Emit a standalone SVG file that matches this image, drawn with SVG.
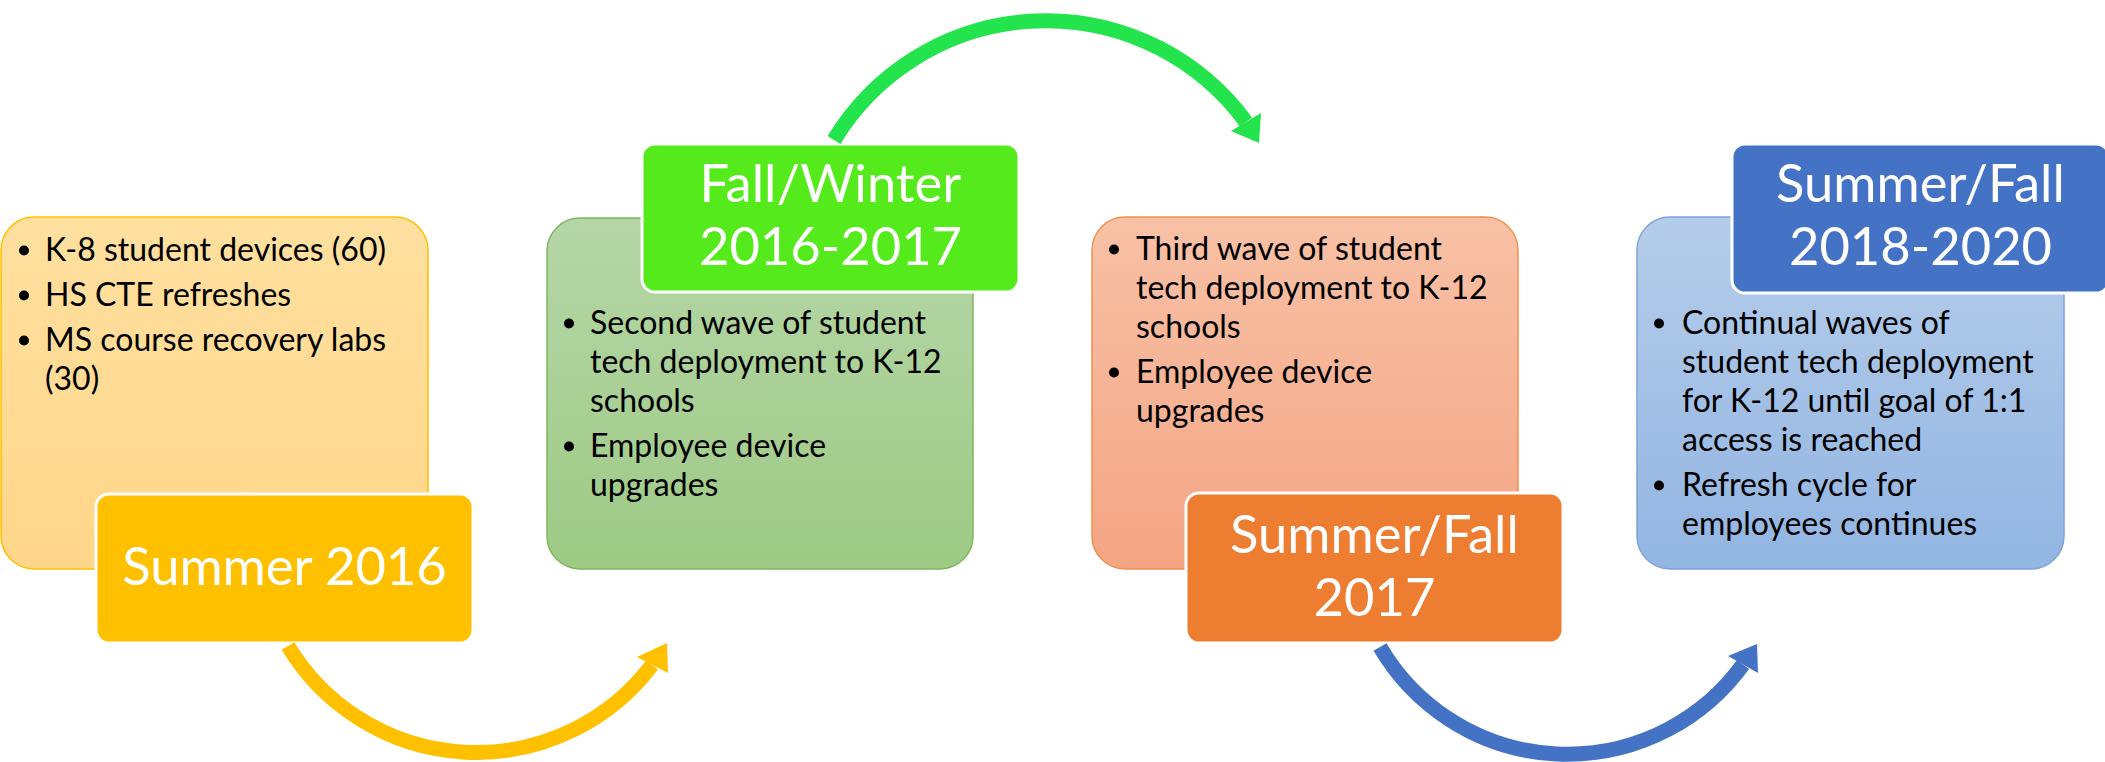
<svg xmlns="http://www.w3.org/2000/svg" width="2105" height="762" viewBox="0 0 2105 762">
<defs>
<linearGradient id="g1" x1="0" y1="0" x2="0" y2="1"><stop offset="0" stop-color="#FFE09F"/><stop offset="1" stop-color="#FFD68A"/></linearGradient>
<linearGradient id="g2" x1="0" y1="0" x2="0" y2="1"><stop offset="0" stop-color="#B6D6A7"/><stop offset="1" stop-color="#9DCA85"/></linearGradient>
<linearGradient id="g3" x1="0" y1="0" x2="0" y2="1"><stop offset="0" stop-color="#F8C1A6"/><stop offset="1" stop-color="#F4A584"/></linearGradient>
<linearGradient id="g4" x1="0" y1="0" x2="0" y2="1"><stop offset="0" stop-color="#B5CDEA"/><stop offset="1" stop-color="#92B5E2"/></linearGradient>
</defs>
<style>
.body{font-family:Lato,"Open Sans","Liberation Sans",sans-serif;font-size:32px;fill:#000}
.title{font-family:Lato,"Open Sans","Liberation Sans",sans-serif;font-size:52.5px;fill:#fff;text-anchor:middle}
.tb{stroke:#fff;stroke-width:3}
.dot{fill:#000}
.arc{fill:none;stroke-width:15}
</style>
<rect width="2105" height="762" fill="#fff"/>

<g id="node1">
<rect x="1" y="217" width="427" height="352" rx="33" fill="url(#g1)" stroke="#FFC000" stroke-width="1.5"/>
<circle class="dot" cx="24" cy="250.5" r="5"/>
<circle class="dot" cx="24" cy="295.5" r="5"/>
<circle class="dot" cx="24" cy="340.5" r="5"/>
<text class="body" x="45" y="261">K-8 student devices (60)</text>
<text class="body" x="45" y="306">HS CTE refreshes</text>
<text class="body" x="45" y="351">MS course recovery labs</text>
<text class="body" x="45" y="390">(30)</text>
<rect class="tb" x="96" y="494" width="377" height="149" rx="13" fill="#FFC000"/>
<text class="title" x="284.5" y="585">Summer 2016</text>
</g>

<g id="node2">
<rect x="547" y="218" width="426" height="351" rx="33" fill="url(#g2)" stroke="#7FB65E" stroke-width="1.5"/>
<circle class="dot" cx="569" cy="323.5" r="5"/>
<circle class="dot" cx="569" cy="446.5" r="5"/>
<text class="body" x="590" y="334">Second wave of student</text>
<text class="body" x="590" y="373">tech deployment to K-12</text>
<text class="body" x="590" y="412">schools</text>
<text class="body" x="590" y="457">Employee device</text>
<text class="body" x="590" y="496">upgrades</text>
<rect class="tb" x="642" y="144" width="377" height="148" rx="13" fill="#55EA1B"/>
<text class="title" x="830.5" y="202">Fall/Winter</text>
<text class="title" x="830.5" y="265">2016-2017</text>
</g>

<g id="node3">
<rect x="1092" y="217" width="426" height="352" rx="33" fill="url(#g3)" stroke="#F0904F" stroke-width="1.5"/>
<circle class="dot" cx="1114" cy="249.5" r="5"/>
<circle class="dot" cx="1114" cy="372.5" r="5"/>
<text class="body" x="1136" y="260">Third wave of student</text>
<text class="body" x="1136" y="299">tech deployment to K-12</text>
<text class="body" x="1136" y="338">schools</text>
<text class="body" x="1136" y="383">Employee device</text>
<text class="body" x="1136" y="422">upgrades</text>
<rect class="tb" x="1186" y="493" width="377" height="150" rx="13" fill="#ED7D31"/>
<text class="title" x="1374.5" y="553">Summer/Fall</text>
<text class="title" x="1374.5" y="616">2017</text>
</g>

<g id="node4">
<rect x="1637" y="217" width="427" height="352" rx="33" fill="url(#g4)" stroke="#7EA3DB" stroke-width="1.5"/>
<circle class="dot" cx="1659" cy="323.5" r="5"/>
<circle class="dot" cx="1659" cy="485.5" r="5"/>
<text class="body" x="1682" y="334">Continual waves of</text>
<text class="body" x="1682" y="373">student tech deployment</text>
<text class="body" x="1682" y="412">for K-12 until goal of 1:1</text>
<text class="body" x="1682" y="451">access is reached</text>
<text class="body" x="1682" y="496">Refresh cycle for</text>
<text class="body" x="1682" y="535">employees continues</text>
<rect class="tb" x="1732" y="144" width="377" height="149" rx="13" fill="#4472C4"/>
<text class="title" x="1920.5" y="202">Summer/Fall</text>
<text class="title" x="1920.5" y="265">2018-2020</text>
</g>

<g id="connectors">
<path class="arc" d="M 288 646 A 220 220 0 0 0 652 665" stroke="#FFC000"/>
<polygon points="637,657 667,643 668,673" fill="#FFC000"/>
<path class="arc" d="M 834 140 A 248 248 0 0 1 1246 122" stroke="#23E44C"/>
<polygon points="1231,131 1259,143 1261,113" fill="#23E44C"/>
<path class="arc" d="M 1380 647 A 217 217 0 0 0 1743 664.5" stroke="#4472C4"/>
<polygon points="1728,656 1757,644 1758,673" fill="#4472C4"/>
</g>
</svg>
